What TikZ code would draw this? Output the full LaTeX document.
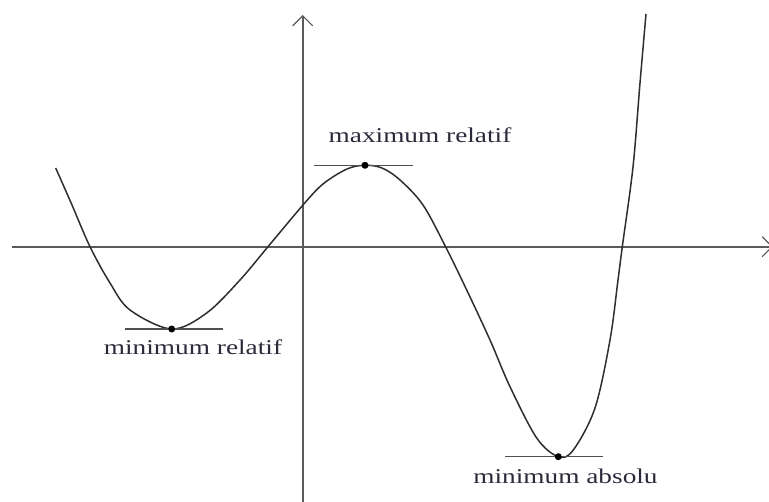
\documentclass[tikz,border=0pt]{standalone}
\usepackage{fontspec}
\setmainfont{Liberation Serif}
\newfontfamily\lblfont[FakeStretch=1.3]{Liberation Serif}
\usetikzlibrary{arrows.meta}
\definecolor{axisgray}{HTML}{5A5A5A}
\definecolor{curvegray}{HTML}{2E2E2E}
\definecolor{tangray}{HTML}{505050}
\definecolor{lblcol}{HTML}{2A2A3A}
\tikzset{
  axisline/.style={draw=axisgray, line width=1.8pt, -{Straight Barb[length=10pt,width=20pt,line width=1.2pt]}},
  curveline/.style={draw=curvegray, line width=1.5pt, line join=round},
  tangent/.style={draw=tangray, line width=1.5pt},
  extremum/.style={circle, fill=black, inner sep=0pt, minimum size=7pt},
  lbl/.style={anchor=base, text=lblcol, font=\fontsize{21}{24}\lblfont, inner sep=0pt}
}
\begin{document}
\begin{tikzpicture}[x=1pt,y=-1pt]
\useasboundingbox (0,0) rectangle (769,502);
% axes
\coordinate (xl) at (12,246.7);
\coordinate (xr) at (773,246.7);
\coordinate (yb) at (302.7,505);
\coordinate (yt) at (302.7,15);
\draw[axisline] (xl) -- (xr);
\draw[axisline] (yb) -- (yt);
% curve
\draw[curveline] plot[smooth, tension=0.55] coordinates {
 (55.7,168) (72,205) (90,246.7) (110,283) (130,310) (171.7,329)
 (206.7,313) (240,280) (268,246.7) (303,205) (323,184) (347,169)
 (365,165.3) (382,168) (400,180) (423,205) (445.7,247) (466.7,290) (490,340)
 (510,386.7) (536.7,438) (558.3,456.7) (573.3,450) (595,408) (610,340)
 (618,280) (622.3,246.7) (633,167) (640,83) (646,14)};
% extrema
\node[extremum] (minrel) at (171.7,329) {};
\node[extremum] (maxrel) at (365,165.3) {};
\node[extremum] (minabs) at (558.3,456.7) {};
% tangents
\draw[tangent] (125,329) -- (minrel) -- (222.7,329);
\draw[tangent] (314,165.3) -- (maxrel) -- (412.7,165.3);
\draw[tangent] (505,456.7) -- (minabs) -- (603.3,456.7);
% labels
\node[lbl] (lmax) at (420,143) {maximum relatif};
\node[lbl] (lminr) at (193,355) {minimum relatif};
\node[lbl] (lmina) at (565.5,484) {minimum absolu};
\end{tikzpicture}
\end{document}
